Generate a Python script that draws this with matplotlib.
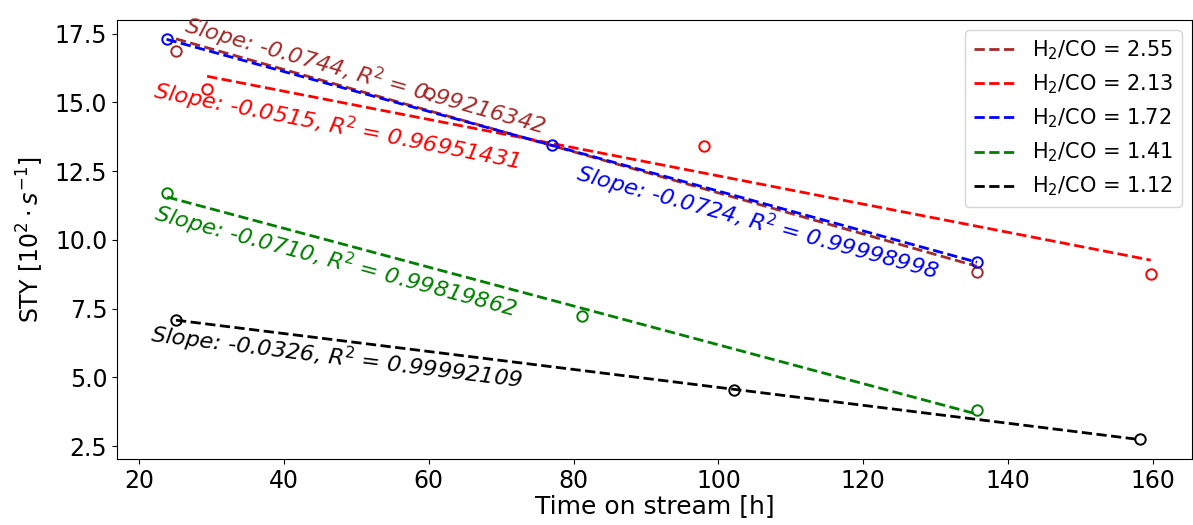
import numpy as np
import matplotlib
matplotlib.use('Agg')
import matplotlib.pyplot as plt

# H2/CO ratios and measured STY vs time on stream
ratios = ['2.55', '2.13', '1.72', '1.41', '1.12']
colors = ['brown', 'red', 'blue', 'green', 'black']

t_255 = [25.1, 60.1, 135.7]
y_255 = [16.88, 15.33, 8.84]
t_213 = [29.4, 98.0, 159.7]
y_213 = [15.49, 13.41, 8.75]
t_172 = [23.8, 77.0, 135.7]
y_172 = [17.30, 13.44, 9.19]
t_141 = [23.9, 81.1, 135.7]
y_141 = [11.70, 7.23, 3.81]
t_112 = [25.1, 102.2, 158.2]
y_112 = [7.09, 4.54, 2.75]

slopes = ['-0.0744', '-0.0515', '-0.0724', '-0.0710', '-0.0326']
r2s = ['0.99216342', '0.96951431', '0.99998998', '0.99819862', '0.99992109']

# where each slope label starts (data coords)
label_xy = [(26.1, 17.53), (21.8, 15.16), (80.2, 12.18), (21.9, 10.72), (21.5, 6.28)]

ts = [t_255, t_213, t_172, t_141, t_112]
ys = [y_255, y_213, y_172, y_141, y_112]

fig = plt.figure(figsize=(11.93, 5.25), dpi=100)
ax = fig.add_axes([0.0981, 0.1257, 0.9011, 0.8362])

for t, y, c, r, s, r2, (lx, ly) in zip(ts, ys, colors, ratios, slopes, r2s, label_xy):
    t = np.array(t); y = np.array(y)
    k, b = np.polyfit(t, y, 1)
    xx = np.array([t.min(), t.max()])
    ax.plot(xx, k * xx + b, '--', color=c, lw=2, label=r'H$_2$/CO = ' + r)
    ax.plot(t, y, 'o', mfc='none', mec=c, ms=7.5, mew=1.4)
    ax.text(lx, ly, 'Slope: ' + s + r', R$^2$ = ' + r2, color=c, fontsize=16.2,
            fontstyle='italic', rotation=np.degrees(np.arctan(k)),
            transform_rotates_text=True, rotation_mode='anchor',
            ha='left', va='baseline')

ax.set_xlim(16.96, 165.4)
ax.set_ylim(2.03, 18.0)
ax.set_xticks([20, 40, 60, 80, 100, 120, 140, 160])
ax.set_yticks([2.5, 5.0, 7.5, 10.0, 12.5, 15.0, 17.5])
ax.tick_params(labelsize=17)
ax.set_xlabel('Time on stream [h]', fontsize=18, labelpad=1)
ax.set_ylabel(r'STY [$10^2 \cdot s^{-1}$]', fontsize=17, labelpad=6)
ax.legend(loc='upper right', fontsize=15)

plt.savefig('out.png', dpi=100)
